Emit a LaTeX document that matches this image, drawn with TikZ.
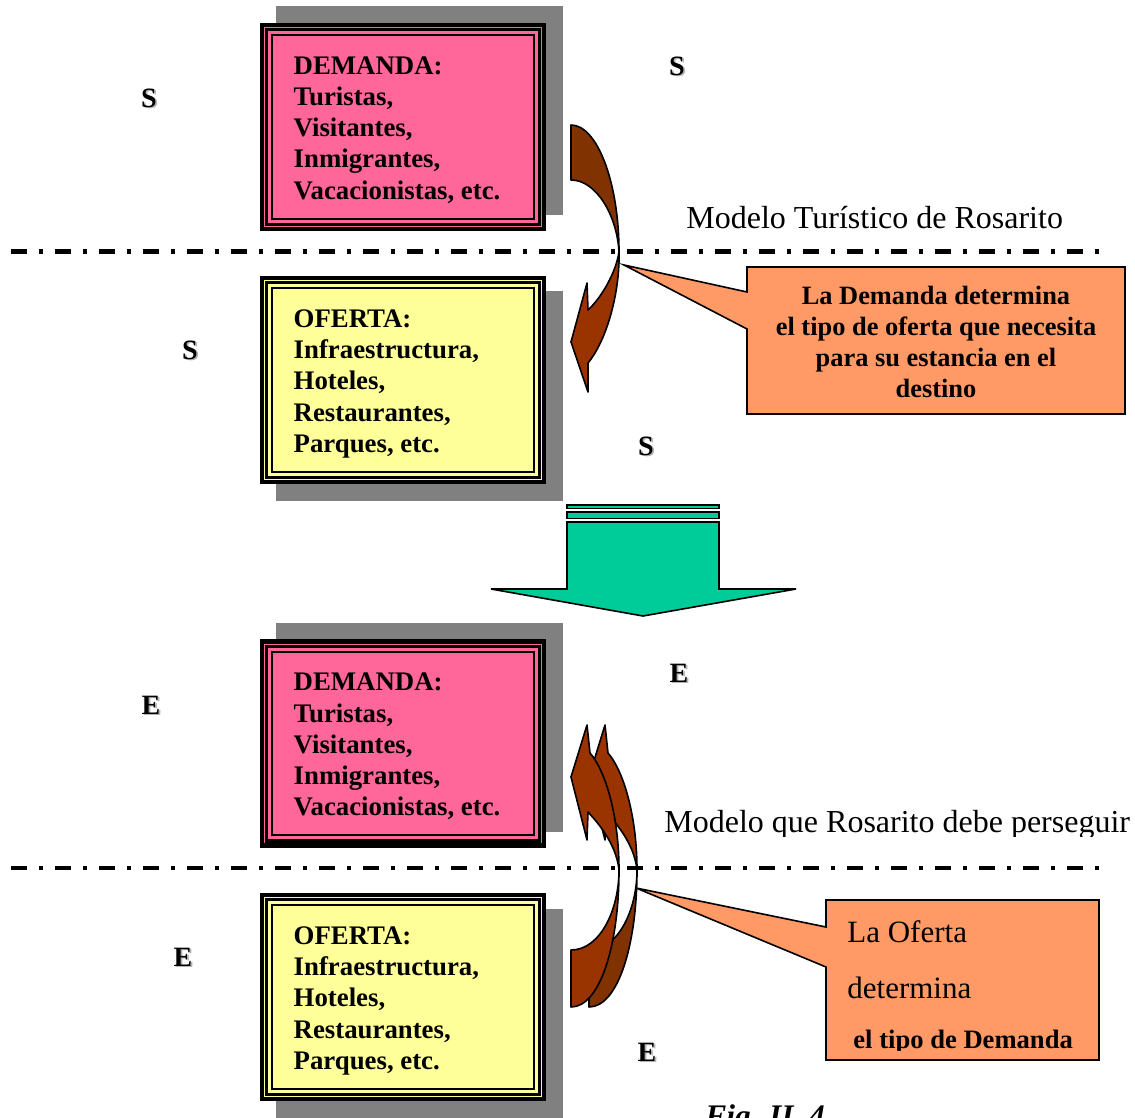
\documentclass[tikz,border=0pt]{standalone}
\usepackage{fontspec}
\setmainfont{Liberation Serif}
\usepackage{tikz}
\usetikzlibrary{positioning}
\definecolor{dempink}{HTML}{FF6699}
\definecolor{ofyellow}{HTML}{FFFF99}
\definecolor{shadegrey}{HTML}{808080}
\definecolor{flowgreen}{HTML}{00CC99}
\definecolor{notebg}{HTML}{FF9966}
\definecolor{turnbrown}{HTML}{993300}
\definecolor{backbrown}{HTML}{803300}
\newcommand{\demandalist}{DEMANDA:\\Turistas,\\Visitantes,\\Inmigrantes,\\Vacacionistas, etc.}
\newcommand{\ofertalist}{OFERTA:\\Infraestructura,\\Hoteles,\\Restaurantes,\\Parques, etc.}
\newcommand{\shadowed}[1]{\rlap{\kern0.8pt\raisebox{-0.8pt}{\color{shadegrey!60}#1}}#1}

\begin{document}
\begin{tikzpicture}[x=0.5pt,y=-0.5pt,
    panel/.style={draw=black,line width=2.3pt,minimum width=141pt,minimum height=102pt,inner sep=0pt},
    midline/.style={draw=black,line width=1.7pt},
    thinline/.style={draw=black,line width=0.9pt},
    boxtext/.style={align=left,inner sep=0pt,font=\fontsize{13.4}{15.6}\selectfont\bfseries},
    letter/.style={inner sep=0pt,font=\fontsize{14}{16}\selectfont\bfseries},
    divider/.style={line width=2.3pt,dash pattern=on 7.8pt off 6.3pt on 1.7pt off 6.2pt},
    turn/.style={draw=black,line width=0.8pt,line join=round},
    flow/.style={draw=black,line width=0.8pt,fill=flowgreen},
    note/.style={draw=black,line width=0.8pt,fill=notebg},
    notetext/.style={align=center,inner sep=0pt,font=\fontsize{13.2}{15.5}\selectfont\bfseries},
    label/.style={anchor=base west,inner sep=0pt,font=\fontsize{16}{19}\selectfont}]
    \useasboundingbox (0,0) rectangle (1135,1118);
    \clip (0,0) rectangle (1135,1118);

    \fill[shadegrey] (275.5,6.5) rectangle (562.5,215.5);
    \node[panel,fill=dempink] (dem1) at (403,127) {};
    \draw[midline] ([shift={(3.5pt,-3.5pt)}]dem1.north west) rectangle ([shift={(-3.5pt,3.5pt)}]dem1.south east);
    \draw[thinline] ([shift={(6.25pt,-6.25pt)}]dem1.north west) rectangle ([shift={(-6.25pt,6.25pt)}]dem1.south east);
    \node[boxtext,below right=16.8pt and 16.8pt of dem1.north west] (dem1txt) {\demandalist};

    \fill[shadegrey] (275.5,291.5) rectangle (562.5,500.5);
    \node[panel,fill=ofyellow] (of1) at (403,380) {};
    \draw[midline] ([shift={(3.5pt,-3.5pt)}]of1.north west) rectangle ([shift={(-3.5pt,3.5pt)}]of1.south east);
    \draw[thinline] ([shift={(6.25pt,-6.25pt)}]of1.north west) rectangle ([shift={(-6.25pt,6.25pt)}]of1.south east);
    \node[boxtext,below right=16.8pt and 16.8pt of of1.north west] (of1txt) {\ofertalist};

    \fill[shadegrey] (275.5,623) rectangle (562.5,832);
    \node[panel,fill=dempink] (dem2) at (403,743.5) {};
    \draw[midline] ([shift={(3.5pt,-3.5pt)}]dem2.north west) rectangle ([shift={(-3.5pt,3.5pt)}]dem2.south east);
    \draw[thinline] ([shift={(6.25pt,-6.25pt)}]dem2.north west) rectangle ([shift={(-6.25pt,6.25pt)}]dem2.south east);
    \node[boxtext,below right=16.8pt and 16.8pt of dem2.north west] (dem2txt) {\demandalist};

    \fill[shadegrey] (275.5,908.5) rectangle (562.5,1117.5);
    \node[panel,fill=ofyellow] (of2) at (403,997) {};
    \draw[midline] ([shift={(3.5pt,-3.5pt)}]of2.north west) rectangle ([shift={(-3.5pt,3.5pt)}]of2.south east);
    \draw[thinline] ([shift={(6.25pt,-6.25pt)}]of2.north west) rectangle ([shift={(-6.25pt,6.25pt)}]of2.south east);
    \node[boxtext,below right=16.8pt and 16.8pt of of2.north west] (of2txt) {\ofertalist};

    \draw[divider] (11,251.5) -- (1100,251.5);
    \draw[divider] (11,868) -- (1100,868);

    \draw[turn,fill=backbrown] (571,125) .. controls (597,125) and (619,182) .. (619,252) .. controls (617,215) and (596,180) .. (571,180) -- cycle;
    \draw[turn,fill=turnbrown] (619,252) .. controls (620,292) and (607,340) .. (588,363) -- (588,392) -- (571,342) -- (587,283) -- (588,310) .. controls (602,297) and (616,272) .. (619,252) -- cycle;

    \begin{scope}[shift={(18,0)}]
        \draw[turn,fill=backbrown] (571,1007) .. controls (600,1007) and (619,945) .. (619,870) .. controls (619,910) and (600,950) .. (571,950) -- cycle;
        \draw[turn,fill=turnbrown] (619,870) .. controls (619,815) and (605,770) .. (590,753) -- (587,725) -- (571,777) -- (587,840) -- (588,812) .. controls (605,830) and (617,850) .. (619,870) -- cycle;
    \end{scope}
    \draw[turn,fill=turnbrown] (571,1007) .. controls (600,1007) and (619,945) .. (619,870) .. controls (619,910) and (600,950) .. (571,950) -- cycle;
    \draw[turn,fill=turnbrown] (619,870) .. controls (619,815) and (605,770) .. (590,753) -- (587,725) -- (571,777) -- (587,840) -- (588,812) .. controls (605,830) and (617,850) .. (619,870) -- cycle;

    \draw[flow] (567,505) rectangle (719,508.5);
    \draw[flow] (567,512) rectangle (719,518.5);
    \draw[flow] (567,522) -- (719,522) -- (719,589) -- (796,589) -- (643,616) -- (491,589) -- (567,589) -- cycle;

    \draw[note] (747,267) -- (1125,267) -- (1125,414) -- (747,414) -- (747,329) -- (624,265) -- (747,292) -- cycle;
    \node[notetext] (dnote) at (936,342) {La Demanda determina\\el tipo de oferta que necesita\\para su estancia en el\\destino};

    \draw[note] (826,900) -- (1099,900) -- (1099,1060) -- (826,1060) -- (826,967) -- (636,888) -- (826,927) -- cycle;
    \begin{scope}
        \clip (826,900) rectangle (1099,1050);
        \node[label,font=\fontsize{15.5}{18}\selectfont] (onote1) at (847,942) {La Oferta};
        \node[label,font=\fontsize{15.5}{18}\selectfont] (onote2) at (847,998) {determina};
        \node[label,font=\fontsize{13.3}{15.5}\selectfont\bfseries] (onote3) at (853,1048) {el tipo de Demanda};
    \end{scope}

    \node[label] (model1) at (686,228.5) {Modelo Turístico de Rosarito};
    \begin{scope}
        \clip (600,780) rectangle (1135,836);
        \node[label] (model2) at (664,832.5) {Modelo que Rosarito debe perseguir};
    \end{scope}

    \node[letter] (s1) at (149,99) {\shadowed{S}};
    \node[letter] (s2) at (677,67) {\shadowed{S}};
    \node[letter] (s3) at (190,351) {\shadowed{S}};
    \node[letter] (s4) at (646,447) {\shadowed{S}};
    \node[letter] (e1) at (151,706) {\shadowed{E}};
    \node[letter] (e2) at (679,674) {\shadowed{E}};
    \node[letter] (e3) at (183,958) {\shadowed{E}};
    \node[letter] (e4) at (647,1053) {\shadowed{E}};

    \node[label,font=\fontsize{15.7}{18}\selectfont\bfseries\itshape] (fig) at (705,1126) {Fig. II. 4};
\end{tikzpicture}
\end{document}
